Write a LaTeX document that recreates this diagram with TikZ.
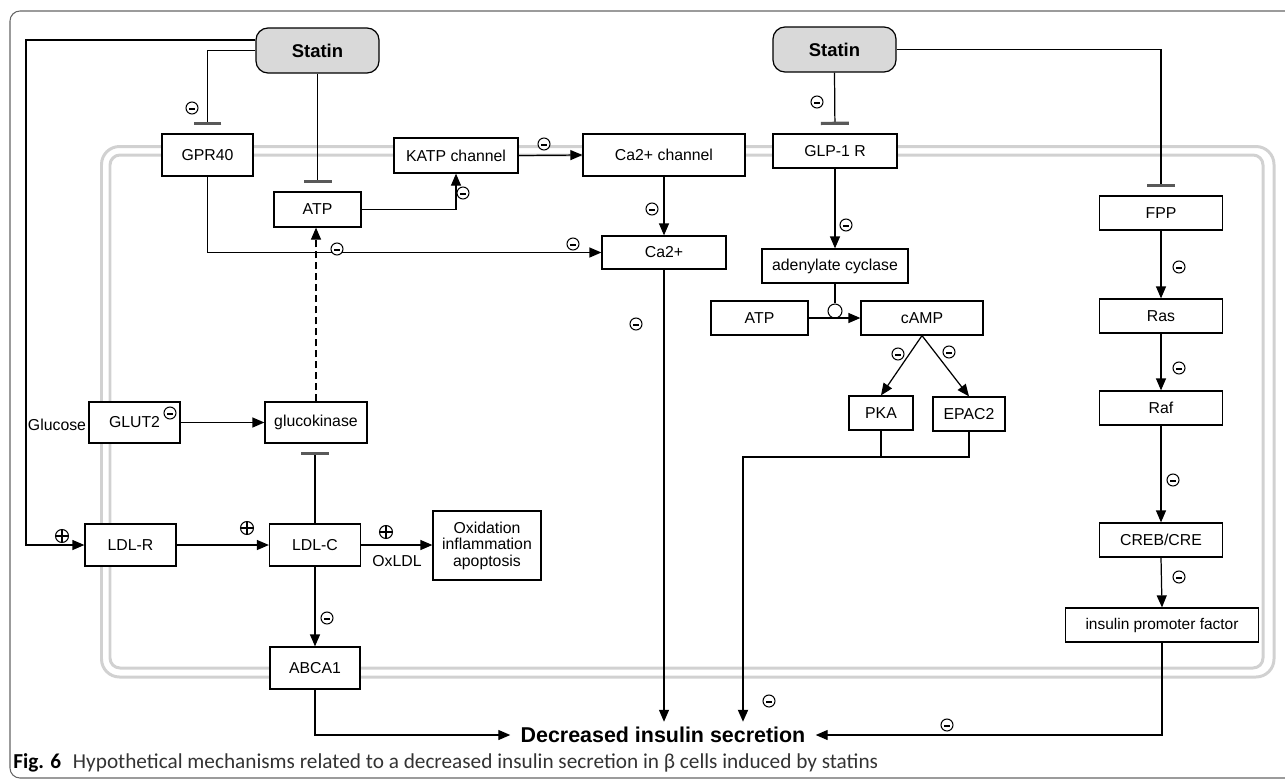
\documentclass[tikz,border=0pt]{standalone}
\usepackage{fontspec}
\setmainfont{Liberation Sans}
\newfontfamily\capfont{Carlito}
\usetikzlibrary{arrows.meta}

\tikzset{
  wh/.style 2 args={minimum width=#1*0.02cm, minimum height=#2*0.02cm},
  box/.style={draw, line width=0.7pt, fill=white, inner sep=0pt, font=\fontsize{9}{10}\selectfont},
  drug/.style={box, rounded corners=0.24cm, fill=black!15, font=\fontsize{10.5}{12}\selectfont\bfseries},
  lbl/.style={inner sep=0pt, font=\fontsize{9}{10}\selectfont},
  membrane/.style={draw=black!18, line width=1.7pt},
  act/.style={line width=0.7pt, -{Triangle[length=0.24cm, width=0.2cm]}},
  inh/.style={line width=0.7pt, -{Bar[width=0.56cm, line width=1.8pt, color=black!65]}, shorten >=0.17cm},
  minussign/.style={circle, draw, line width=0.6pt, inner sep=0pt, minimum size=0.24cm, fill=white,
    path picture={\draw[line width=1.4pt] ([xshift=-0.055cm, yshift=-0.015cm]path picture bounding box.center)
      -- ([xshift=0.055cm, yshift=-0.015cm]path picture bounding box.center);}},
  plussign/.style={circle, draw, line width=0.6pt, inner sep=0pt, minimum size=0.26cm, fill=white,
    path picture={\draw[line width=0.6pt] ([xshift=-0.13cm]path picture bounding box.center)
      -- ([xshift=0.13cm]path picture bounding box.center)
      ([yshift=-0.13cm]path picture bounding box.center) -- ([yshift=0.13cm]path picture bounding box.center);}}
}

\begin{document}
\begin{tikzpicture}[x=0.02cm, y=-0.02cm]
  \useasboundingbox (0,0) rectangle (1285,782);
  \clip (0,0) rectangle (1285,782);

  % frame and cell membrane
  \draw[black!60, line width=0.6pt, rounded corners=0.2cm] (10,11) rectangle (1300,778);
  \draw[membrane, rounded corners=0.36cm] (101.5,146.5) rectangle (1274,677);
  \draw[membrane, rounded corners=0.2cm] (110,155) rectangle (1263,668);

  \node[drug, wh={123}{45}] (statinA) at (317.5,50.5) {Statin};
  \node[drug, wh={123}{45}] (statinB) at (834.5,49.5) {Statin};

  \node[box, wh={91}{42}] (gpr) at (207.5,155) {GPR40};
  \node[box, wh={87}{35}] (atpA) at (317.5,209.5) {ATP};
  \node[box, wh={124}{35}] (katp) at (456,155.5) {KATP channel};
  \node[box, wh={162}{42}] (cach) at (664,155) {Ca2+ channel};
  \node[box, wh={124}{33}] (ca) at (664,252.5) {Ca2+};
  \node[box, wh={91}{41}] (glut) at (134.5,422.5) {GLUT2};
  \node[box, wh={102}{41}] (gk) at (316,422.5) {glucokinase};
  \node[box, wh={91}{42}] (ldlr) at (130.5,545) {LDL-R};
  \node[box, wh={91}{42}] (ldlc) at (315,545) {LDL-C};
  \node[box, wh={108}{69}, align=center, font=\fontsize{9}{9.4}\selectfont] (oxi) at (487,545.5) {Oxidation\\inflammation\\apoptosis};
  \node[box, wh={90}{42}] (abca) at (315,668) {ABCA1};

  \node[box, wh={124}{34}] (glp) at (835,151) {GLP-1 R};
  \node[box, wh={146}{34}] (ac) at (835,266) {adenylate cyclase};
  \node[box, wh={97}{34}] (atpB) at (759.5,318) {ATP};
  \node[box, wh={122}{34}] (camp) at (922,318) {cAMP};
  \node[box, wh={64}{34}] (pka) at (881,413) {PKA};
  \node[box, wh={72}{34}] (epac) at (969,414) {EPAC2};

  \node[box, wh={123}{34}] (fpp) at (1161,213) {FPP};
  \node[box, wh={123}{34}] (ras) at (1161,316) {Ras};
  \node[box, wh={123}{34}] (raf) at (1161,408) {Raf};
  \node[box, wh={123}{34}] (creb) at (1161,540) {CREB/CRE};
  \node[box, wh={193}{34}, font=\fontsize{8.8}{10}\selectfont] (ipf) at (1162,625) {insulin promoter factor};

  \node[font=\fontsize{12.2}{14}\selectfont\bfseries, inner xsep=0.2cm, inner ysep=0.1cm] (dec) at (663,735) {Decreased insulin secretion};
  \node[lbl] (glucose) at (57,425) {Glucose};
  \node[lbl] (oxldl) at (397,561) {OxLDL};
  \node[circle, draw, line width=0.6pt, inner sep=0pt, minimum size=0.28cm] (cat) at (835,311) {};
  \coordinate (rail) at (26,300);
  \coordinate (join) at (743,457);

  % left statin
  \draw[act] ([yshift=0.21cm]statinA.west) -| (rail) |- (ldlr.west);
  \draw[inh] (statinA.west) -| (gpr.north);
  \draw[inh] (statinA.south) -- (atpA.north);
  \draw[act] (atpA.east) -| (katp.south);
  \draw[act] (katp.east) -- (cach.west);
  \draw[act] (cach.south) -- (ca.north);
  \draw[act] (gpr.south) |- (ca.west);
  \draw[act, dash pattern=on 0.14cm off 0.08cm] (gk.north) -- (gk.north |- atpA.south);
  \draw[act] (glut.east) -- (gk.west);
  \draw[inh] (ldlc.north) -- (ldlc.north |- gk.south);
  \draw[act] (ldlr.east) -- (ldlc.west);
  \draw[act] (ldlc.east) -- (oxi.west |- ldlc.east);
  \draw[act] (ldlc.south) -- (abca.north);
  \draw[act] (abca.south) |- (dec.west);
  \draw[act] (ca.south) -- (ca.south |- dec.north);

  % right statin
  \draw[inh] (statinB.south) -- (glp.north);
  \draw[inh] (statinB.east) -| (fpp.north);
  \draw[act] (glp.south) -- (ac.north);
  \draw[line width=0.7pt] (ac.south) -- (cat.north);
  \draw[act] (atpB.east) -- (camp.west);
  \draw[act] (camp.south) -- (pka.north);
  \draw[act] (camp.south) -- (epac.north);
  \draw[line width=1.1pt] (pka.south) -- (pka.south |- join);
  \draw[act, line width=1.1pt] (epac.south) |- (join) -- (join |- dec.north);
  \draw[act] (fpp.south) -- (ras.north);
  \draw[act] (ras.south) -- (raf.north);
  \draw[act] (raf.south) -- (creb.north);
  \draw[act] (creb.south) -- (ipf.north);
  \draw[act] (ipf.south) |- (dec.east);

  % signs
  \foreach \x/\y [count=\i] in {192/108, 463/193, 544/144, 652/209, 337/249, 573/244, 636/324,
      817/102, 846/225, 898/354, 949/352, 1179/267, 1179/368, 1173/480, 1179/577,
      170/413, 327/618, 769/701, 947/725}
    \node[minussign] (neg\i) at (\x,\y) {};
  \foreach \x/\y [count=\i] in {62/536, 247/528, 386/532}
    \node[plussign] (plus\i) at (\x,\y) {};

  \node[anchor=west, inner sep=0pt, font=\capfont\fontsize{12.1}{14}\selectfont] (caption) at (13,763)
    {\textbf{Fig. 6}\hspace{0.55em}\textcolor{black!80}{Hypothetical mechanisms related to a decreased insulin secretion in β cells induced by statins}};
\end{tikzpicture}
\end{document}
